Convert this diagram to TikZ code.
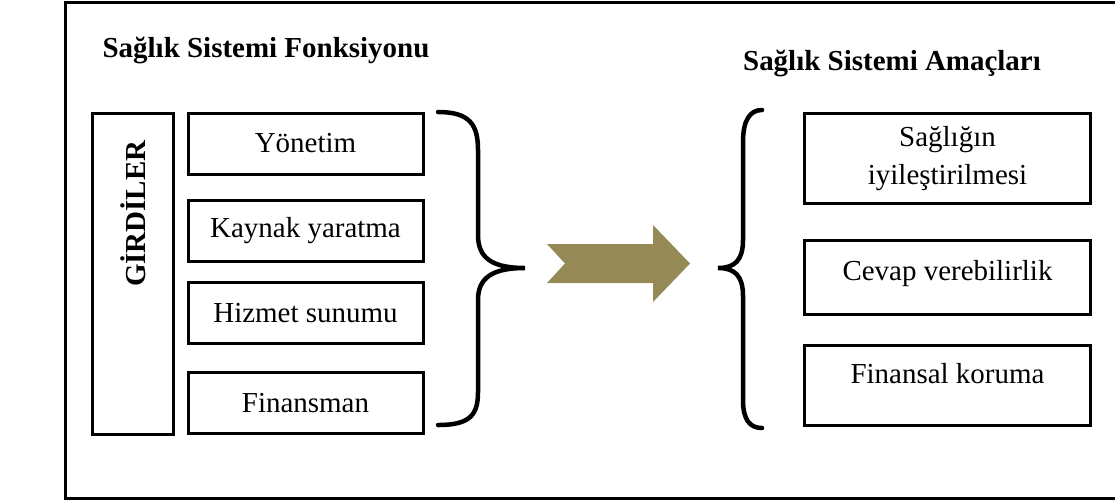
\documentclass[tikz,border=0pt]{standalone}
\usepackage{fontspec}
\setmainfont{Liberation Serif}
\newlength\pxu
\setlength{\pxu}{0.025cm}
\definecolor{arrowolive}{RGB}{149,138,86}
\tikzset{
  frame/.style={line width=3\pxu},
  inbox/.style={draw, line width=3\pxu, minimum width=235\pxu, minimum height=61\pxu, inner sep=0pt, align=center},
  goalbox/.style={draw, line width=3\pxu, minimum width=286\pxu, inner sep=0pt, align=center},
  curly/.style={line width=4.5\pxu, line cap=round},
  heading/.style={font=\fontsize{20.6}{27}\selectfont\bfseries},
}
\begin{document}
\begin{tikzpicture}[x=0.025cm, y=-0.025cm, font=\fontsize{20.6}{27}\selectfont]
        \useasboundingbox (0,0) rectangle (1115,502);
        \draw[frame] (1125,2.5) -| (65.5,498.5) -- (1125,498.5);
        % titles
        \node[heading] (fonk) at (266,50) {Sağlık Sistemi Fonksiyonu};
        \node[heading] (amac) at (892,63) {Sağlık Sistemi Amaçları};
        % inputs
        \node[draw, line width=3\pxu, rotate=90, minimum width=321\pxu, minimum height=81\pxu,
              inner ysep=0pt, inner xsep=27\pxu, text width=266\pxu, align=right, heading]
              (girdi) at (133,273.5) {GİRDİLER};
        \node[inbox] (yonetim) at (305.5,143.5) {Yönetim};
        \node[inbox] (kaynak) at (305.5,231) {Kaynak yaratma};
        \node[inbox] (hizmet) at (305.5,313) {Hizmet sunumu};
        \node[inbox] (finans) at (305.5,403) {Finansman};
        % braces
        \draw[curly] (438,112) .. controls (470,112) and (478,125) .. (478,150) -- (478,235)
              .. controls (478,258) and (492,268) .. (525,268)
              .. controls (492,268) and (478,278) .. (478,300) -- (478,392)
              .. controls (478,415) and (470,425) .. (438,425);
        \fill[arrowolive] (547,244) -- (653,244) -- (653,225) -- (690,263.5) -- (653,302)
              -- (653,283) -- (547,283) -- (565,263.5) -- cycle;
        \draw[curly] (762,110) .. controls (750,110) and (743,120) .. (743,142) -- (743,240)
              .. controls (743,260) and (735,268) .. (718,268)
              .. controls (735,268) and (743,276) .. (743,296) -- (743,400)
              .. controls (743,420) and (750,428) .. (762,428);
        % goals
        \node[goalbox, minimum height=90\pxu] (saglik) at (947.5,158.5) {Sağlığın\\iyileştirilmesi};
        \node[goalbox, minimum height=74\pxu, text depth=14\pxu] (cevap) at (947.5,277) {Cevap verebilirlik};
        \node[goalbox, minimum height=80\pxu, text depth=24\pxu] (koruma) at (947.5,385) {Finansal koruma};
\end{tikzpicture}
\end{document}
